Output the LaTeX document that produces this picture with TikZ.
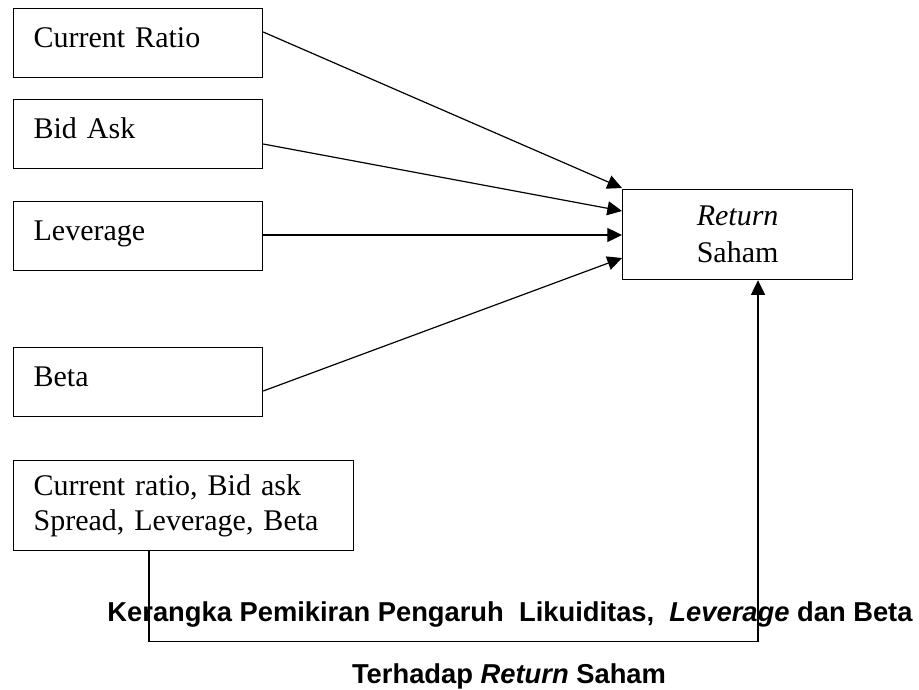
\documentclass[tikz,border=0pt]{standalone}
\usepackage{fontspec}
\setmainfont{Liberation Serif}
\newfontfamily\capfont{Liberation Sans}
\usetikzlibrary{arrows.meta,calc}
\begin{document}
\begin{tikzpicture}[x=0.75pt,y=-0.75pt,
  serif/.style={font=\fontsize{22.5}{26.5}\selectfont},
  varbox/.style={draw, line width=0.9pt, anchor=north west, serif,
    inner xsep=15pt, inner ysep=0pt, minimum width=186.75pt,
    text width=156.75pt, align=left, text height=29.25pt, text depth=22.5pt},
  bigbox/.style={draw, line width=0.9pt, anchor=north west, serif,
    inner xsep=15pt, inner ysep=0pt, minimum width=255pt, minimum height=67.5pt,
    text width=225pt, align=left},
  resbox/.style={draw, line width=0.9pt, anchor=north west,
    font=\fontsize{22.5}{27.75}\selectfont,
    inner sep=0pt, minimum width=172.5pt, minimum height=67.5pt, align=center},
  arr/.style={-{Triangle[length=11pt,width=10.5pt]}, line width=0.9pt},
  conn/.style={line width=0.9pt},
  caption/.style={anchor=base, inner sep=0pt, font=\capfont\bfseries\fontsize{20.5}{24}\selectfont}
]
\useasboundingbox (0,0) rectangle (919,689);

\node[varbox] (cr)  at (13,8)   {Current Ratio};
\node[varbox] (ba)  at (13,99)  {Bid Ask};
\node[varbox] (lev) at (13,201) {Leverage};
\node[varbox] (bet) at (13,347) {Beta};
\node[bigbox] (all) at (13,460) {Current ratio, Bid ask\\Spread, Leverage, Beta};
\node[resbox] (rs)  at (622,189) {\textit{Return}\\Saham};

\coordinate (crout)  at ($(cr.north east)+(0,24)$);
\coordinate (baout)  at ($(ba.north east)+(0,45)$);
\coordinate (levout) at ($(lev.north east)+(0,34)$);
\coordinate (betout) at ($(bet.north east)+(0,44)$);
\coordinate (crin)   at ($(rs.north west)+(0,-1)$);
\coordinate (bain)   at ($(rs.north west)+(0,22)$);
\coordinate (levin)  at ($(rs.north west)+(0,46)$);
\coordinate (betin)  at ($(rs.north west)+(0,69)$);
\coordinate (allout) at ($(all.south west)+(136,0)$);
\coordinate (rsin)   at ($(rs.south west)+(136,0)$);

\draw[arr] (crout) -- (crin);
\draw[arr] (baout) -- (bain);
\draw[arr] (levout) -- (levin);
\draw[arr] (betout) -- (betin);
\draw[arr] (allout) -- ++(0,90) -| (rsin);

\node[caption] (cap1) at (510,621) {Kerangka Pemikiran Pengaruh\ \ Likuiditas,\ \ \textit{Leverage} dan Beta};
\node[caption] (cap2) at (509,683) {Terhadap \textit{Return} Saham};
\end{tikzpicture}
\end{document}
